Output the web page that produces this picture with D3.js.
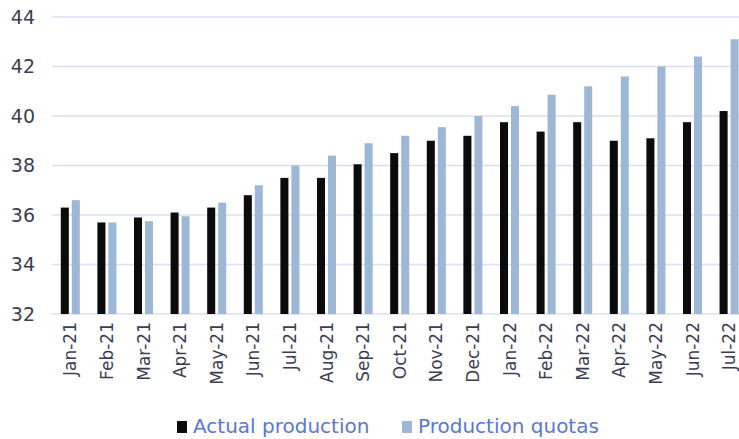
<!DOCTYPE html>
<html>
<head>
<meta charset="utf-8">
<script src="https://cdn.jsdelivr.net/npm/d3@7/dist/d3.min.js"></script>
<style>
  body { margin: 0; background: #fff; }
  text { font-family: "DejaVu Sans", sans-serif; }
</style>
</head>
<body>
<div class="canvas"></div>
<script>
// data
const months = ['Jan-21','Feb-21','Mar-21','Apr-21','May-21','Jun-21','Jul-21','Aug-21','Sep-21','Oct-21',
                'Nov-21','Dec-21','Jan-22','Feb-22','Mar-22','Apr-22','May-22','Jun-22','Jul-22'];
const actual = [36.3, 35.7, 35.9, 36.1, 36.3, 36.8, 37.5, 37.5, 38.05, 38.5,
                39.0, 39.2, 39.75, 39.37, 39.75, 39.0, 39.1, 39.75, 40.2];
const quotas = [36.6, 35.7, 35.75, 35.95, 36.5, 37.2, 38.0, 38.4, 38.9, 39.2,
                39.55, 40.0, 40.4, 40.86, 41.2, 41.6, 42.0, 42.4, 43.1];
const yTicks = [32, 34, 36, 38, 40, 42, 44];
const seriesNames = ['Actual production', 'Production quotas'];

const colours = {'Actual production': '#0b0b0b', 'Production quotas': '#9db7d6'};

const width = 739, height = 439;

const svg = d3.select('.canvas')
  .append('svg')
  .attr('width', width)
  .attr('height', height);

// plot runs past the right edge, like the original crop
const x = d3.scaleBand()
  .domain(months)
  .range([52, 52 + months.length * 36.6])
  .paddingInner(0.48)
  .paddingOuter(0.24);

const xInner = d3.scaleBand()
  .domain(seriesNames)
  .range([0, x.bandwidth()])
  .paddingInner(0.27);

const y = d3.scaleLinear()
  .domain([32, 44])
  .range([314, 17]);

// gridlines
svg.append('g')
  .selectAll('line')
  .data(yTicks)
  .enter()
  .append('line')
    .attr('x1', 52)
    .attr('x2', width)
    .attr('y1', d => y(d))
    .attr('y2', d => y(d))
    .attr('stroke', '#d8e0f3')
    .attr('stroke-width', 1.5);

// y labels
svg.append('g')
  .selectAll('text')
  .data(yTicks)
  .enter()
  .append('text')
    .attr('x', 35)
    .attr('y', d => y(d))
    .attr('dy', '0.36em')
    .attr('text-anchor', 'end')
    .attr('font-size', 19)
    .attr('fill', '#3d3d52')
    .text(d => d);

// bars
const rows = months.map((m, i) => ({month: m, values: [
  {name: seriesNames[0], v: actual[i]},
  {name: seriesNames[1], v: quotas[i]}
]}));

const groups = svg.append('g')
  .selectAll('g')
  .data(rows)
  .enter()
  .append('g')
    .attr('transform', d => `translate(${x(d.month)},0)`);

groups.selectAll('rect')
  .data(d => d.values)
  .enter()
  .append('rect')
    .attr('x', d => xInner(d.name))
    .attr('width', xInner.bandwidth())
    .attr('y', d => y(d.v))
    .attr('height', d => y(32) - y(d.v))
    .attr('fill', d => colours[d.name]);

// x labels, rotated
svg.append('g')
  .selectAll('text')
  .data(months)
  .enter()
  .append('text')
    .attr('transform', d => `translate(${x(d) + x.bandwidth() / 2},322) rotate(-90)`)
    .attr('dy', '0.36em')
    .attr('text-anchor', 'end')
    .attr('font-size', 17)
    .attr('fill', '#3d3d52')
    .text(d => d);

// legend (kept just inside the bottom edge)
const legendX = [177, 402];
const legend = svg.append('g')
  .selectAll('g')
  .data(seriesNames)
  .enter()
  .append('g')
    .attr('transform', (d, i) => `translate(${legendX[i]},0)`);

legend.append('rect')
  .attr('x', 0)
  .attr('y', 421)
  .attr('width', 10)
  .attr('height', 12)
  .attr('fill', d => colours[d]);

legend.append('text')
  .attr('x', 16)
  .attr('y', 433)
  .attr('font-size', 20)
  .attr('fill', '#5a78d2')
  .text(d => d);
</script>
</body>
</html>
